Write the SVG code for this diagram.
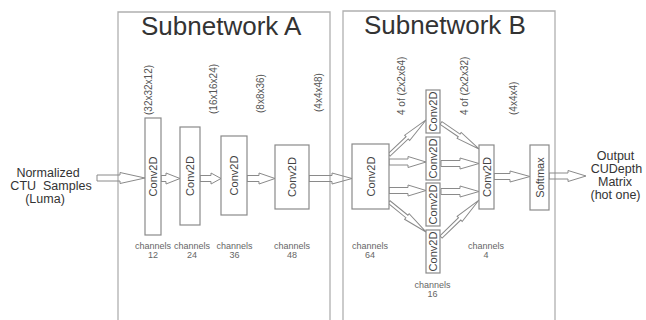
<svg xmlns="http://www.w3.org/2000/svg" width="646" height="320" viewBox="0 0 646 320">
<style>
.frame{fill:none;stroke:#b0b0b0;stroke-width:1.3}
.box{fill:#fff;stroke:#8a8a8a;stroke-width:1.2}
.arr{fill:none;stroke:#8a8a8a;stroke-width:1}
text{font-family:"Liberation Sans",Arial,sans-serif}
.title{font-size:26px;fill:#333}
.io{font-size:12.5px;fill:#333;text-anchor:middle}
.cv{font-size:11px;fill:#444;text-anchor:middle}
.dim{font-size:10px;fill:#555}
.ch{font-size:9px;fill:#666;text-anchor:middle}
</style>
<rect width="646" height="320" fill="#fff"/>
<g id="frames">
<path class="frame" d="M118,322 V12 H330 V322"/>
<path class="frame" d="M343,322 V11 H555 V322"/>
<text class="title" x="141" y="35">Subnetwork A</text>
<text class="title" x="364" y="34">Subnetwork B</text>
</g>
<g id="connectors">
<polygon class="arr" points="97,175 120,175 120,172.5 145,178 120,183.5 120,181 97,181"/>
<polygon class="arr" points="161,175.5 166,175.5 166,173 180,178.5 166,184 166,181.5 161,181.5"/>
<polygon class="arr" points="200,175.5 211,175.5 211,173 221,178.5 211,184 211,181.5 200,181.5"/>
<polygon class="arr" points="247,175.5 259,175.5 259,173 275,178.5 259,184 259,181.5 247,181.5"/>
<polygon class="arr" points="309,175.5 332,175.5 332,173 352,178.5 332,184 332,181.5 309,181.5"/>
<polygon class="arr" points="389,159 408,159 408,156.5 426,162 408,167.5 408,165 389,165"/>
<polygon class="arr" points="389,187.5 408,187.5 408,185 426,190.5 408,196 408,193.5 389,193.5"/>
<polygon class="arr" points="441,160.5 460,160.5 460,158 479,163.5 460,169 460,166.5 441,166.5"/>
<polygon class="arr" points="441,188.5 460,188.5 460,186 479,191.5 460,197 460,194.5 441,194.5"/>
<polygon class="arr" transform="translate(389,155) rotate(-43.4)" points="0,-1.6 25,-1.6 25,-3.6 51,0 25,3.6 25,1.6 0,1.6"/>
<polygon class="arr" transform="translate(389,202) rotate(39)" points="0,-1.6 23,-1.6 23,-3.6 47.6,0 23,3.6 23,1.6 0,1.6"/>
<polygon class="arr" transform="translate(441,123) rotate(34.4)" points="0,-1.6 22,-1.6 22,-3.6 46,0 22,3.6 22,1.6 0,1.6"/>
<polygon class="arr" transform="translate(441,237) rotate(-44.2)" points="0,-1.6 26,-1.6 26,-3.6 53,0 26,3.6 26,1.6 0,1.6"/>
<polygon class="arr" points="494,173.5 510,173.5 510,171 530,176.5 510,182 510,179.5 494,179.5"/>
<polygon class="arr" points="549,173 568,173 568,170.5 586,176 568,181.5 568,179 549,179"/>
</g>
<g id="input">
<text class="io" x="48" y="176.5">Normalized</text>
<text class="io" x="51" y="190" xml:space="preserve">CTU  Samples</text>
<text class="io" x="45" y="203">(Luma)</text>
</g>
<g id="convA1">
<rect class="box" x="145" y="118" width="16" height="117"/>
<text class="cv" transform="translate(157,176.5) rotate(-90)">Conv2D</text>
<text class="dim" transform="translate(151.5,115) rotate(-90)">(32x32x12)</text>
<text class="ch" x="153" y="249">channels</text>
<text class="ch" x="153" y="258">12</text>
</g>
<g id="convA2">
<rect class="box" x="180" y="127" width="20" height="98"/>
<text class="cv" transform="translate(194,176) rotate(-90)">Conv2D</text>
<text class="dim" transform="translate(216.5,114) rotate(-90)">(16x16x24)</text>
<text class="ch" x="192" y="249">channels</text>
<text class="ch" x="192" y="258">24</text>
</g>
<g id="convA3">
<rect class="box" x="221" y="136" width="26" height="79"/>
<text class="cv" transform="translate(238,175.5) rotate(-90)">Conv2D</text>
<text class="dim" transform="translate(263.5,113) rotate(-90)">(8x8x36)</text>
<text class="ch" x="234.5" y="249">channels</text>
<text class="ch" x="234.5" y="258">36</text>
</g>
<g id="convA4">
<rect class="box" x="275" y="145" width="34" height="64"/>
<text class="cv" transform="translate(296,177) rotate(-90)">Conv2D</text>
<text class="dim" transform="translate(321.5,112) rotate(-90)">(4x4x48)</text>
<text class="ch" x="292" y="249">channels</text>
<text class="ch" x="292" y="258">48</text>
</g>
<g id="convB1">
<rect class="box" x="352" y="144" width="37" height="65"/>
<text class="cv" transform="translate(374.5,176.5) rotate(-90)">Conv2D</text>
<text class="dim" transform="translate(404.5,115) rotate(-90)">4 of (2x2x64)</text>
<text class="ch" x="370" y="248.5">channels</text>
<text class="ch" x="370" y="257.5">64</text>
</g>
<g id="convB2a">
<rect class="box" x="426" y="90" width="14" height="43"/>
<text class="cv" transform="translate(437,111.5) rotate(-90)">Conv2D</text>
</g>
<g id="convB2b">
<rect class="box" x="426" y="137" width="14" height="43"/>
<text class="cv" transform="translate(437,158.5) rotate(-90)">Conv2D</text>
</g>
<g id="convB2c">
<rect class="box" x="426" y="183" width="14" height="43"/>
<text class="cv" transform="translate(437,204.5) rotate(-90)">Conv2D</text>
</g>
<g id="convB2d">
<rect class="box" x="426" y="230" width="14" height="43"/>
<text class="cv" transform="translate(437,251.5) rotate(-90)">Conv2D</text>
<text class="ch" x="432.5" y="287.5">channels</text>
<text class="ch" x="432.5" y="296.5">16</text>
</g>
<g id="convB3">
<rect class="box" x="479" y="145" width="15" height="64"/>
<text class="cv" transform="translate(490.5,177) rotate(-90)">Conv2D</text>
<text class="dim" transform="translate(467.5,115) rotate(-90)">4 of (2x2x32)</text>
<text class="dim" transform="translate(516.5,115) rotate(-90)">(4x4x4)</text>
<text class="ch" x="486" y="248.5">channels</text>
<text class="ch" x="486" y="257.5">4</text>
</g>
<g id="softmax">
<rect class="box" x="530" y="145" width="19" height="65"/>
<text class="cv" transform="translate(543.5,177.5) rotate(-90)">Softmax</text>
</g>
<g id="output">
<text class="io" x="615.5" y="160">Output</text>
<text class="io" x="616.5" y="173">CUDepth</text>
<text class="io" x="615" y="186">Matrix</text>
<text class="io" x="615.5" y="199">(hot one)</text>
</g>
</svg>
